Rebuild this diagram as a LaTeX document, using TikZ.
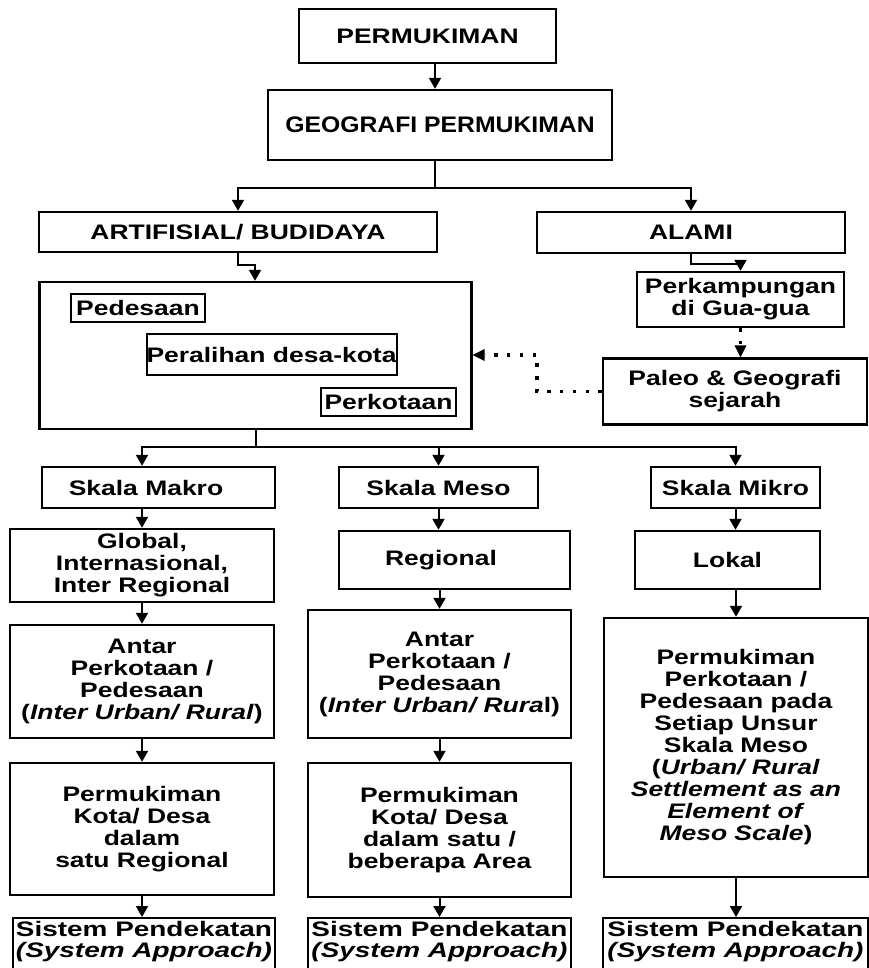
\documentclass[tikz,border=0pt]{standalone}
\usepackage{fontspec}
\setmainfont[FakeStretch=1.26]{Liberation Sans}
\newfontfamily\titlefam[FakeStretch=1.1]{Liberation Sans}
\newfontfamily\widefam[FakeStretch=1.33]{Liberation Sans}
\usetikzlibrary{arrows.meta}

\newcommand\boxfont{\fontsize{21}{22}\selectfont\bfseries}

\tikzset{
  box/.style={draw, line width=2.4pt, inner sep=0pt, align=center, font=\boxfont},
  subbox/.style={box, line width=2pt},
  plain/.style={inner sep=0pt, align=center, font=\boxfont},
  arr/.style={line width=2pt, -{Triangle[length=11pt,width=12pt]}},
  dotarr/.style={line width=3.4pt, dash pattern=on 3.4pt off 9.4pt,
                 -{Triangle[length=12pt,width=12pt,line width=0pt]}},
}

\begin{document}
\begin{tikzpicture}[x=1pt,y=-1pt]
\useasboundingbox (0,0) rectangle (869,968);
\fill[white] (0,0) rectangle (869,968);
\clip (0,0) rectangle (869,968);

% top of the tree
\node[box, minimum width=257, minimum height=54] (perm) at (427.5,36) {PERMUKIMAN};
\node[box, minimum width=344, minimum height=70, font=\titlefam\fontsize{22.5}{22}\selectfont\bfseries]
  (geo) at (440,125) {GEOGRAFI PERMUKIMAN};
\node[box, minimum width=398, minimum height=40] (art) at (238,232) {ARTIFISIAL/ BUDIDAYA};
\node[box, minimum width=308, minimum height=41] (alami) at (691,232.5) {ALAMI};

% settlement types
\node[box, minimum width=432, minimum height=147] (main) at (255.5,355.5) {};
\node[subbox, minimum width=134, minimum height=28] (ped) at (138,308) {Pedesaan};
\node[subbox, minimum width=249, minimum height=41] (per) at (271.5,354.5) {Peralihan desa-kota};
\node[subbox, minimum width=135, minimum height=28] (kot) at (388.5,402) {Perkotaan};

\node[box, minimum width=207, minimum height=55] (kamp) at (740.5,299.5) {Perkampungan\\di Gua-gua};
\node[box, minimum width=264, minimum height=66] (paleo) at (735,391.5) {Paleo \& Geografi\\sejarah};

% scales
\node[box, minimum width=233, minimum height=41] (makro) at (158.5,487.5) {\hspace*{-25pt}Skala Makro};
\node[box, minimum width=199, minimum height=41] (meso) at (438.5,487.5) {Skala Meso};
\node[box, minimum width=169, minimum height=41] (mikro) at (735.5,487.5) {Skala Mikro};

\node[box, minimum width=264, minimum height=73] (global) at (142,565.5) {Global,\\Internasional,\\Inter Regional};
\node[box, minimum width=231, minimum height=58] (regional) at (454.5,560) {\hspace*{-27pt}Regional};
\node[box, minimum width=185, minimum height=58] (lokal) at (727.5,560) {Lokal};

\node[box, minimum width=264, minimum height=113] (antarA) at (142,681.5)
  {Antar\\Perkotaan /\\Pedesaan\\(\textit{Inter Urban/ Rural})};
\node[box, minimum width=263, minimum height=128] (antarB) at (439.5,674)
  {Antar\\Perkotaan /\\Pedesaan\\(\textit{Inter Urban/ Rura}l)};
\node[box, minimum width=264, minimum height=259] (pkC) at (736,747.5)
  {Permukiman\\Perkotaan /\\Pedesaan pada\\Setiap Unsur\\Skala Meso\\(\textit{Urban/ Rural}\\
   \textit{Settlement as an}\\\textit{Element of}\\\textit{Meso Scale})};

\node[box, minimum width=264, minimum height=132] (pkA) at (142,829)
  {Permukiman\\Kota/ Desa\\dalam\\satu Regional};
\node[box, minimum width=263, minimum height=134] (pkB) at (439.5,830)
  {Permukiman\\Kota/ Desa\\dalam satu /\\beberapa Area};

% approach boxes run past the lower edge
\node[box, minimum width=262, minimum height=80, anchor=north] (sisA) at (144,917) {};
\node[box, minimum width=263, minimum height=80, anchor=north] (sisB) at (439.5,917) {};
\node[box, minimum width=265, minimum height=80, anchor=north] (sisC) at (735.5,917) {};
\tikzset{sistext/.style={plain, font=\widefam\fontsize{21}{21}\selectfont\bfseries}}
\node[sistext] (sisAt) at (144,942) {Sistem Pendekatan\\\textit{(System Approach)}};
\node[sistext] (sisBt) at (439.5,942) {Sistem Pendekatan\\\textit{(System Approach)}};
\node[sistext] (sisCt) at (735.5,942) {Sistem Pendekatan\\\textit{(System Approach)}};

% junction points
\coordinate (sx) at (435,0);
\coordinate (jA) at (0,188);
\coordinate (eA) at (255,265);
\coordinate (eB) at (0,264);
\coordinate (dk) at (537,355);
\coordinate (jB) at (0,447);

% connectors
\draw[arr] (sx |- perm.south) -- (sx |- geo.north);
\draw[line width=2pt] (sx |- geo.south) -- (sx |- jA);
\draw[arr] (sx |- jA) -| (art.north);
\draw[arr] (sx |- jA) -| (alami.north);
\draw[arr] (art.south) |- (eA) -- (eA |- main.north);
\draw[arr] (alami.south) |- (kamp.north |- eB) -- (kamp.north);
\draw[dotarr] (kamp.south) -- (kamp.south |- paleo.north);
\draw[dotarr] (paleo.west) -| (dk) -- (dk -| main.east);

\draw[line width=2pt] (main.south) -- (main.south |- jB);
\draw[arr] (main.south |- jB) -| (global.north |- makro.north);
\draw[arr] (main.south |- jB) -| (meso.north);
\draw[arr] (main.south |- jB) -| (mikro.north);

\draw[arr] (global.north |- makro.south) -- (global.north);
\draw[arr] (meso.south) -- (meso.south |- regional.north);
\draw[arr] (mikro.south) -- (mikro.south |- lokal.north);

\draw[arr] (global.south) -- (antarA.north);
\draw[arr] (antarB.north |- regional.south) -- (antarB.north);
\draw[arr] (pkC.north |- lokal.south) -- (pkC.north);

\draw[arr] (antarA.south) -- (pkA.north);
\draw[arr] (antarB.south) -- (pkB.north);

\draw[arr] (pkA.south) -- (pkA.south |- sisA.north);
\draw[arr] (pkB.south) -- (pkB.south |- sisB.north);
\draw[arr] (pkC.south) -- (pkC.south |- sisC.north);
\end{tikzpicture}
\end{document}
